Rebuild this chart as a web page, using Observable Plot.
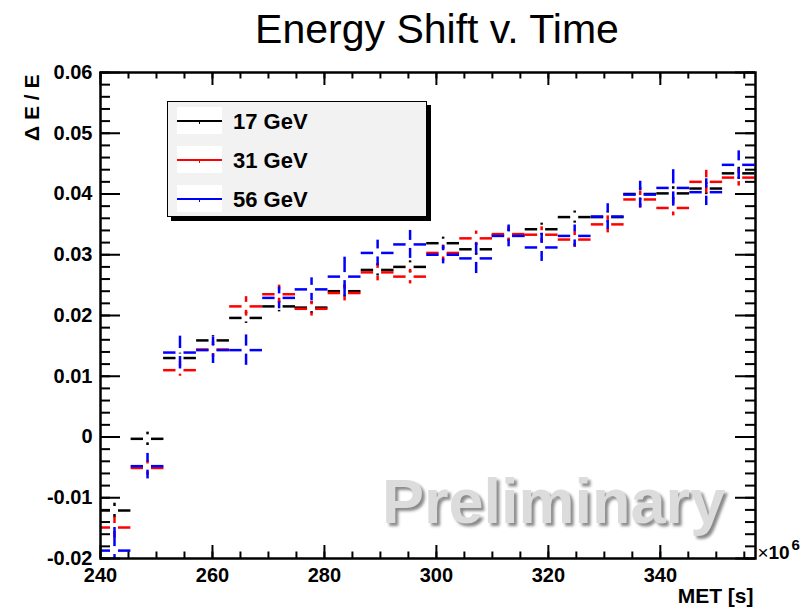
<!DOCTYPE html>
<html>
<head>
<meta charset="utf-8">
<script src="https://cdn.jsdelivr.net/npm/d3@7"></script>
<script src="https://cdn.jsdelivr.net/npm/@observablehq/plot@0.6"></script>
<style>
  html, body { margin: 0; padding: 0; background: #fff; }
  #chart { position: relative; width: 805px; height: 611px; font-family: "Liberation Sans", Arial, Helvetica, sans-serif; }
  #legend {
    position: absolute; left: 167px; top: 101px; width: 258px; height: 114px;
    background: #f2f2f2; border: 1.5px solid #000; box-shadow: 4px 4px 0 #000;
  }
  .entry { position: absolute; left: 9px; height: 27px; width: 240px; }
  .swatch { position: absolute; left: 0; top: 0; width: 45px; height: 27px; background: #fff; }
  .swatch .line { position: absolute; left: 0; top: 12.5px; width: 45px; height: 2px; }
  .swatch .mark { position: absolute; left: 21.5px; top: 12.5px; width: 1.5px; height: 4px; }
  .entry .label { position: absolute; left: 56px; top: 1px; line-height: 27px; font-size: 22px; font-weight: bold; color: #000; white-space: nowrap; }
  #prelim {
    position: absolute; left: 382px; top: 470px; font-size: 63px; line-height: 63px; font-weight: bold;
    color: #dcdcdc; text-shadow: 3px 3px 3px #8a8a8a; white-space: nowrap; pointer-events: none;
  }
</style>
</head>
<body>
<div id="chart"></div>
<script>
// Time bins (MET, units of 10^6 s): bin centres and half-width
const binCenters = [242.5, 248.4, 254.2, 260.1, 266.0, 271.9, 277.7, 283.6, 289.5, 295.3,
                    301.2, 307.1, 312.9, 318.8, 324.7, 330.6, 336.4, 342.3, 348.2, 354.0];
const binHalfWidth = 2.93;

// Relative energy shift per bin, with statistical errors
const shift17 = [-0.0121, -0.0003, 0.0130, 0.0159, 0.0196, 0.0215, 0.0213, 0.0240, 0.0275, 0.0280,
                  0.0319, 0.0309, 0.0332, 0.0342, 0.0362, 0.0362, 0.0400, 0.0401, 0.0409, 0.0434];
const err17 = [0.0012, 0.0011, 0.0008, 0.0008, 0.0009, 0.0009, 0.0010, 0.0010, 0.0010, 0.0010,
               0.0010, 0.0010, 0.0010, 0.0010, 0.0010, 0.0009, 0.0010, 0.0011, 0.0010, 0.0010];

const shift31 = [-0.0149, -0.0051, 0.0110, 0.0144, 0.0215, 0.0235, 0.0211, 0.0237, 0.0271, 0.0264,
                  0.0303, 0.0327, 0.0334, 0.0333, 0.0325, 0.0350, 0.0391, 0.0377, 0.0420, 0.0427];
const err31 = [0.0017, 0.0012, 0.0010, 0.0013, 0.0016, 0.0015, 0.0012, 0.0013, 0.0014, 0.0012,
               0.0013, 0.0012, 0.0012, 0.0013, 0.0013, 0.0014, 0.0014, 0.0013, 0.0019, 0.0014];

const shift56 = [-0.0187, -0.0048, 0.0139, 0.0143, 0.0143, 0.0229, 0.0243, 0.0264, 0.0303, 0.0317,
                  0.0300, 0.0294, 0.0331, 0.0312, 0.0331, 0.0363, 0.0399, 0.0410, 0.0403, 0.0448];
const err56 = [0.0038, 0.0021, 0.0027, 0.0022, 0.0025, 0.0018, 0.0019, 0.0032, 0.0021, 0.0023,
               0.0015, 0.0025, 0.0018, 0.0023, 0.0018, 0.0021, 0.0022, 0.0030, 0.0022, 0.0023];

const seriesNames = ["17 GeV", "31 GeV", "56 GeV"];
const seriesColors = ["#000000", "#ff0000", "#0000ff"];
const seriesValues = [shift17, shift31, shift56];
const seriesErrors = [err17, err31, err56];

// Axis ticks and labels
const xTicks = [240, 260, 280, 300, 320, 340];
const yTicks = [-0.02, -0.01, 0, 0.01, 0.02, 0.03, 0.04, 0.05, 0.06];
const yTickLabels = ["-0.02", "-0.01", "0", "0.01", "0.02", "0.03", "0.04", "0.05", "0.06"];
const xMinorTicks = d3.range(240, 356, 5);
const yMinorTicks = d3.range(-0.02, 0.0601, 0.002);

const chartTitle = "Energy Shift v. Time";
const xTitle = "MET [s]";
const yTitle = "\u0394 E / E";

// Layout
const width = 805, height = 611;
const margin = {top: 72, right: 50, bottom: 53, left: 100};
const frameW = width - margin.left - margin.right;
const frameH = height - margin.top - margin.bottom;
const xDomain = [240, 357];
const yDomain = [-0.02, 0.06];

// Error-bar gap around the marker, 4px expressed in data units
const gapPx = 4;
const gapX = gapPx * (xDomain[1] - xDomain[0]) / frameW;
const gapY = gapPx * (yDomain[1] - yDomain[0]) / frameH;

const ink = {stroke: "#000", strokeWidth: 2};

function seriesMarks(k) {
  const color = seriesColors[k];
  const rows = binCenters.map((x, i) => ({x, y: seriesValues[k][i], err: seriesErrors[k][i]}));
  const withBars = rows.filter(d => d.err > gapY);
  const line = {stroke: color, strokeWidth: 2.5, clip: true};
  return [
    Plot.ruleY(rows, {y: "y", x1: d => d.x - binHalfWidth, x2: d => d.x - gapX, ...line}),
    Plot.ruleY(rows, {y: "y", x1: d => d.x + gapX, x2: d => d.x + binHalfWidth, ...line}),
    Plot.ruleX(withBars, {x: "x", y1: d => d.y + gapY, y2: d => d.y + d.err, ...line}),
    Plot.ruleX(withBars, {x: "x", y1: d => d.y - d.err, y2: d => d.y - gapY, ...line}),
    Plot.dot(rows, {x: "x", y: "y", symbol: "plus", r: 2.2, fill: color, clip: true})
  ];
}

const plot = Plot.plot({
  width, height,
  marginTop: margin.top, marginRight: margin.right, marginBottom: margin.bottom, marginLeft: margin.left,
  style: {fontFamily: "'Liberation Sans', Arial, Helvetica, sans-serif", background: "#fff", color: "#000", overflow: "visible"},
  x: {domain: xDomain, label: null},
  y: {domain: yDomain, label: null},
  marks: [
    ...seriesMarks(0),
    ...seriesMarks(1),
    ...seriesMarks(2),

    // inward ticks on all four sides
    Plot.ruleX(xMinorTicks, {x: d => d, insetTop: frameH - 6.5, ...ink}),
    Plot.ruleX(xMinorTicks, {x: d => d, insetBottom: frameH - 6.5, ...ink}),
    Plot.ruleX(xTicks, {x: d => d, insetTop: frameH - 13, ...ink}),
    Plot.ruleX(xTicks, {x: d => d, insetBottom: frameH - 13, ...ink}),
    Plot.ruleY(yMinorTicks, {y: d => d, insetRight: frameW - 10, ...ink}),
    Plot.ruleY(yMinorTicks, {y: d => d, insetLeft: frameW - 10, ...ink}),
    Plot.ruleY(yTicks, {y: d => d, insetRight: frameW - 20, ...ink}),
    Plot.ruleY(yTicks, {y: d => d, insetLeft: frameW - 20, ...ink}),
    Plot.frame({stroke: "#000", strokeWidth: 2.5}),

    Plot.axisX({ticks: xTicks, tickSize: 0, tickPadding: 9, fontSize: 20, fontWeight: "bold", label: null,
                tickFormat: d => String(d)}),
    Plot.axisY({ticks: yTicks, tickSize: 0, tickPadding: 8, fontSize: 20, fontWeight: "bold", label: null,
                tickFormat: d => yTickLabels[yTicks.indexOf(d)]}),

    Plot.text([chartTitle], {text: d => d, frameAnchor: "top", lineAnchor: "middle", dx: 9, dy: -43, fontSize: 41}),
    Plot.text([xTitle], {text: d => d, frameAnchor: "bottom-right", lineAnchor: "middle", textAnchor: "end",
                         dx: -2, dy: 38, fontSize: 21, fontWeight: "bold"}),
    Plot.text([yTitle], {text: d => d, frameAnchor: "top-left", lineAnchor: "middle", textAnchor: "end",
                         rotate: -90, dx: -68, dy: 2, fontSize: 21, fontWeight: "bold"}),
    // axis exponent: ×10^6
    Plot.text(["\u00d7"], {text: d => d, frameAnchor: "bottom-right", lineAnchor: "middle", textAnchor: "start",
                           dx: 2, dy: -6, fontSize: 19}),
    Plot.text(["10"], {text: d => d, frameAnchor: "bottom-right", lineAnchor: "middle", textAnchor: "start",
                       dx: 13, dy: -6, fontSize: 19, fontWeight: "bold"}),
    Plot.text(["6"], {text: d => d, frameAnchor: "bottom-right", lineAnchor: "middle", textAnchor: "start",
                      dx: 36, dy: -13, fontSize: 15, fontWeight: "bold"})
  ]
});

const chart = document.getElementById("chart");
chart.appendChild(plot);

// Legend box
const legend = document.createElement("div");
legend.id = "legend";
const entryTops = [5, 44, 83];
seriesNames.forEach((name, k) => {
  const entry = document.createElement("div");
  entry.className = "entry";
  entry.style.top = entryTops[k] + "px";
  entry.innerHTML = `<div class="swatch"><div class="line" style="background:${seriesColors[k]}"></div>` +
                    `<div class="mark" style="background:${seriesColors[k]}"></div></div>` +
                    `<div class="label">${name}</div>`;
  legend.appendChild(entry);
});
chart.appendChild(legend);

// Watermark
const prelim = document.createElement("div");
prelim.id = "prelim";
prelim.textContent = "Preliminary";
chart.appendChild(prelim);
</script>
</body>
</html>
